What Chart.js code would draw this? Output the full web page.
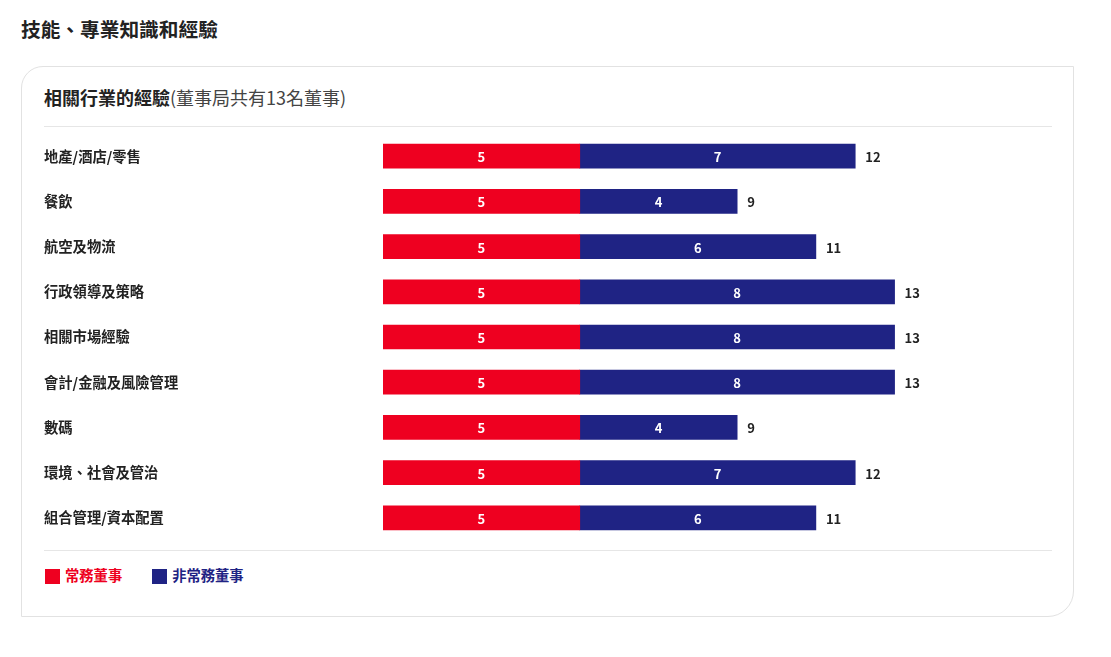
<!DOCTYPE html>
<html><head><meta charset="utf-8">
<script src="https://cdn.jsdelivr.net/npm/chart.js@4"></script>
<style>
html,body{margin:0;padding:0;background:#fff;width:1111px;height:657px;overflow:hidden;font-family:"Noto Sans CJK TC","Noto Sans",sans-serif;}
h1{position:absolute;left:21px;top:14px;margin:0;font-size:19.7px;font-weight:700;color:#222;line-height:30px;}
.card{position:absolute;left:21px;top:66px;width:1051px;height:549px;border:1px solid #e2e2e2;border-radius:22px 0 26px 0;}
.sub{position:absolute;left:22px;top:16px;font-size:18px;line-height:28px;color:#222;}
.sub b{font-weight:700;}
.sub span{font-weight:400;color:#444;}
.sep{position:absolute;left:22px;width:1008px;height:0;border-top:1.5px solid #e6e6e6;}
.cv{position:absolute;left:22px;top:58px;width:1008px;height:424px;}
.legend{position:absolute;left:23px;top:500px;font-size:14.3px;font-weight:700;line-height:16px;}
.legend .it{display:inline-block;margin-right:30px;}
.legend i{display:inline-block;width:15px;height:15px;vertical-align:-3px;margin-right:5px;}
</style></head>
<body>
<h1>技能、專業知識和經驗</h1>
<div class="card">
  <div class="sub"><b>相關行業的經驗</b><span>(董事局共有13名董事)</span></div>
  <div class="sep" style="top:59px"></div>
  <div class="cv"><canvas id="c"></canvas></div>
  <div class="sep" style="top:483px"></div>
  <div class="legend" id="legend"></div>
</div>
<script>
const categories = ["地產/酒店/零售","餐飲","航空及物流","行政領導及策略","相關市場經驗","會計/金融及風險管理","數碼","環境、社會及管治","組合管理/資本配置"];
const executiveDirectors = [5,5,5,5,5,5,5,5,5];
const nonExecutiveDirectors = [7,4,6,8,8,8,4,7,6];
const seriesNames = ["常務董事","非常務董事"];
const seriesColors = ["#EE0020","#1F2384"];

const FONT = '"Noto Sans CJK TC","Noto Sans",sans-serif';

document.getElementById('legend').innerHTML = seriesNames.map((n,i)=>
  `<span class="it" style="color:${seriesColors[i]}"><i style="background:${seriesColors[i]}"></i>${n}</span>`).join('');

const labelPlugin = {
  id:'labels',
  afterDatasetsDraw(chart){
    const ctx = chart.ctx;
    ctx.save();
    ctx.font = '700 13px ' + FONT;
    ctx.textBaseline = 'middle';
    chart.data.datasets.forEach((ds,di)=>{
      const meta = chart.getDatasetMeta(di);
      meta.data.forEach((bar,i)=>{
        const x0 = bar.base, x1 = bar.x;
        ctx.fillStyle = '#fff';
        ctx.textAlign = 'center';
        ctx.fillText(String(ds.data[i]), (x0+x1)/2, bar.y+1);
      });
    });
    const last = chart.getDatasetMeta(chart.data.datasets.length-1);
    last.data.forEach((bar,i)=>{
      const total = executiveDirectors[i] + nonExecutiveDirectors[i];
      ctx.fillStyle = '#222';
      ctx.textAlign = 'left';
      ctx.fillText(String(total), bar.x + 10, bar.y+1);
    });
    ctx.restore();
  }
};

new Chart(document.getElementById('c'), {
  type:'bar',
  data:{
    labels:categories,
    datasets:[
      {label:seriesNames[0], data:executiveDirectors, backgroundColor:seriesColors[0], barThickness:24},
      {label:seriesNames[1], data:nonExecutiveDirectors, backgroundColor:seriesColors[1], barThickness:24}
    ]
  },
  options:{
    indexAxis:'y',
    responsive:true,
    maintainAspectRatio:false,
    animation:false,
    layout:{padding:0},
    plugins:{legend:{display:false},tooltip:{enabled:false}},
    scales:{
      x:{stacked:true,min:0,max:17,display:false,grid:{display:false}},
      y:{stacked:true,
         grid:{display:false,drawTicks:false},
         border:{display:false},
         afterFit(s){ s.width = 339; },
         ticks:{crossAlign:'far',padding:0,color:'#222',font:{family:FONT,size:14.3,weight:'700'}}
      }
    }
  },
  plugins:[labelPlugin]
});
</script>
</body></html>
